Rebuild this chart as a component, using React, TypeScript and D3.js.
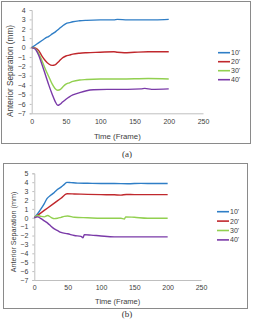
import React, { useRef, useEffect } from 'react';
import * as d3 from 'd3';

type Pt = [number, number];

// (a) anterior separation per frame, by angle
const a10: Pt[] = [[0, 0], [5, 0.25], [10, 0.5], [15, 0.75], [20, 1.0], [25, 1.2], [30, 1.45], [35, 1.7], [40, 2.0], [45, 2.3], [50, 2.55], [55, 2.65], [60, 2.75], [70, 2.85], [80, 2.9], [100, 2.95], [120, 2.95], [125, 3.0], [140, 2.95], [160, 2.95], [180, 2.95], [200, 3.0]];
const a20: Pt[] = [[0, 0], [5, -0.05], [10, -0.3], [15, -0.9], [20, -1.4], [25, -1.75], [30, -1.9], [34, -1.85], [38, -1.6], [42, -1.3], [46, -1.05], [50, -0.9], [55, -0.8], [60, -0.7], [70, -0.6], [80, -0.55], [100, -0.5], [120, -0.45], [125, -0.5], [135, -0.55], [150, -0.5], [170, -0.45], [200, -0.45]];
const a30: Pt[] = [[0, 0], [5, -0.1], [10, -0.6], [15, -1.4], [20, -2.3], [25, -3.1], [30, -3.9], [34, -4.35], [38, -4.55], [42, -4.45], [46, -4.15], [50, -3.9], [55, -3.75], [60, -3.6], [70, -3.45], [80, -3.4], [100, -3.35], [130, -3.35], [170, -3.3], [200, -3.35]];
const a40: Pt[] = [[0, 0], [5, -0.15], [10, -0.8], [15, -1.8], [20, -2.9], [25, -4.0], [30, -5.0], [34, -5.7], [38, -6.15], [41, -6.05], [45, -5.8], [50, -5.5], [55, -5.25], [60, -5.05], [70, -4.8], [80, -4.6], [90, -4.5], [110, -4.45], [140, -4.45], [160, -4.4], [165, -4.35], [175, -4.45], [200, -4.4]];

// (b) anterior separation per frame, by angle
const b10: Pt[] = [[0, 0], [5, 0.45], [10, 1.0], [15, 1.6], [19, 2.15], [25, 2.55], [30, 2.85], [35, 3.2], [40, 3.45], [45, 3.75], [49, 3.98], [55, 3.95], [65, 3.9], [80, 3.88], [100, 3.85], [120, 3.85], [140, 3.83], [160, 3.87], [180, 3.85], [200, 3.85]];
const b20: Pt[] = [[0, 0], [10, 0.55], [20, 1.1], [30, 1.65], [40, 2.2], [49, 2.7], [60, 2.68], [80, 2.63], [100, 2.6], [120, 2.58], [130, 2.55], [138, 2.62], [150, 2.6], [170, 2.6], [200, 2.6]];
const b30: Pt[] = [[0, 0], [5, 0.25], [10, 0.15], [15, 0.1], [20, 0.25], [25, 0.05], [30, -0.1], [35, -0.05], [40, 0.05], [45, 0.15], [50, 0.2], [60, 0.05], [80, 0.0], [100, -0.05], [130, -0.05], [135, -0.15], [137, 0.1], [150, 0.05], [170, -0.05], [200, -0.05]];
const b40: Pt[] = [[0, 0], [5, 0.1], [10, -0.1], [15, -0.35], [20, -0.6], [25, -0.95], [30, -1.25], [35, -1.45], [40, -1.65], [50, -1.8], [60, -2.0], [70, -2.1], [73, -2.25], [75, -1.9], [85, -1.95], [100, -2.05], [120, -2.15], [150, -2.15], [200, -2.15]];

const seriesNames = ["10'", "20'", "30'", "40'"];
const seriesColors = ['#2f7ec6', '#c0282d', '#92d050', '#7a3aa8'];
const xTicks = [0, 50, 100, 150, 200, 250];

interface PanelProps {
  series: Pt[][];
  yMin: number;
  yMax: number;
  caption: string;
  frame: { x: number; y: number; w: number; h: number };
  plot: { left: number; right: number; top: number; bottom: number };
  legend: { x: number; y: number; step: number };
  tickLabelY: number;
  titleY: number;
  yTitle: { x: number; y: number; size: number };
  xTitleSize: number;
  captionY: number;
}

const Panel: React.FC<PanelProps> = (p) => {
  const ref = useRef<SVGGElement | null>(null);

  useEffect(() => {
    const g = d3.select(ref.current);
    g.selectAll('*').remove();

    const x = d3.scaleLinear().domain([0, 250]).range([p.plot.left, p.plot.right]);
    const y = d3.scaleLinear().domain([p.yMin, p.yMax]).range([p.plot.bottom, p.plot.top]);
    const font = 'Liberation Sans, Arial, sans-serif';

    // outer frame
    g.append('rect')
      .attr('x', p.frame.x + 0.5)
      .attr('y', p.frame.y + 0.5)
      .attr('width', p.frame.w)
      .attr('height', p.frame.h)
      .attr('fill', '#fff')
      .attr('stroke', '#8a8a8a');

    // axes
    const yAxis = g.append('g').attr('transform', `translate(${p.plot.left},0)`)
      .call(d3.axisLeft(y).tickValues(d3.range(p.yMin, p.yMax + 1)).tickSize(2).tickPadding(4));
    const xAxis = g.append('g').attr('transform', `translate(0,${p.plot.bottom})`)
      .call(d3.axisBottom(x).tickValues(xTicks).tickSize(0).tickSizeOuter(0).tickPadding(4));
    [yAxis, xAxis].forEach(a => {
      a.select('.domain').attr('stroke', '#bfbfbf');
      a.selectAll('.tick line').attr('stroke', '#bfbfbf');
      a.selectAll('.tick text')
        .attr('fill', '#404040')
        .attr('font-family', font)
        .attr('font-size', 7);
    });
    xAxis.selectAll('.tick text').attr('y', p.tickLabelY - p.plot.bottom).attr('dy', '0.35em');

    // lines
    const line = d3.line<Pt>()
      .x(d => x(d[0]))
      .y(d => y(d[1]))
      .curve(d3.curveMonotoneX);
    p.series.forEach((s, i) => {
      g.append('path')
        .datum(s)
        .attr('d', line)
        .attr('fill', 'none')
        .attr('stroke', seriesColors[i])
        .attr('stroke-width', 1.4)
        .attr('stroke-linejoin', 'round');
    });

    // legend
    seriesNames.forEach((name, i) => {
      const ly = p.legend.y + i * p.legend.step;
      g.append('line')
        .attr('x1', p.legend.x)
        .attr('x2', p.legend.x + 12)
        .attr('y1', ly)
        .attr('y2', ly)
        .attr('stroke', seriesColors[i])
        .attr('stroke-width', 1.6);
      g.append('text')
        .attr('x', p.legend.x + 13)
        .attr('y', ly)
        .attr('dy', '0.35em')
        .attr('font-family', font)
        .attr('font-size', 7)
        .attr('fill', '#404040')
        .text(name);
    });

    // axis titles
    g.append('text')
      .attr('x', (x(0) + x(250)) / 2)
      .attr('y', p.titleY)
      .attr('dy', '0.35em')
      .attr('text-anchor', 'middle')
      .attr('font-family', font)
      .attr('font-size', p.xTitleSize)
      .attr('fill', '#404040')
      .text('Time (Frame)');
    g.append('text')
      .attr('transform', `translate(${p.yTitle.x},${p.yTitle.y}) rotate(-90)`)
      .attr('dy', '0.35em')
      .attr('text-anchor', 'middle')
      .attr('font-family', font)
      .attr('font-size', p.yTitle.size)
      .attr('fill', '#404040')
      .text('Anterior Separation (mm)');

    // caption
    g.append('text')
      .attr('x', 127)
      .attr('y', p.captionY)
      .attr('text-anchor', 'middle')
      .attr('font-family', 'Liberation Serif, Times New Roman, serif')
      .attr('font-size', 9)
      .attr('fill', '#333')
      .text(p.caption);
  }, [p]);

  return <g ref={ref} />;
};

const App: React.FC = () => (
  <div style={{ position: 'fixed', left: 0, top: 0 }}>
    <svg width={254} height={319} style={{ display: 'block', background: '#fff' }}>
      <Panel
        series={[a10, a20, a30, a40]}
        yMin={-7}
        yMax={4}
        caption="(a)"
        frame={{ x: 1, y: 1, w: 249, h: 142 }}
        plot={{ left: 31.7, right: 203, top: 10, bottom: 113.3 }}
        legend={{ x: 218, y: 52.7, step: 9 }}
        tickLabelY={121.7}
        titleY={136}
        yTitle={{ x: 10, y: 71, size: 8.2 }}
        xTitleSize={7.8}
        captionY={157}
      />
      <Panel
        series={[b10, b20, b30, b40]}
        yMin={-7}
        yMax={5}
        caption="(b)"
        frame={{ x: 3, y: 163, w: 244, h: 145 }}
        plot={{ left: 34.3, right: 201, top: 173.3, bottom: 280 }}
        legend={{ x: 217, y: 211.7, step: 9.4 }}
        tickLabelY={287.7}
        titleY={301.7}
        yTitle={{ x: 13, y: 232, size: 7.2 }}
        xTitleSize={7.5}
        captionY={317}
      />
    </svg>
  </div>
);

export default App;
